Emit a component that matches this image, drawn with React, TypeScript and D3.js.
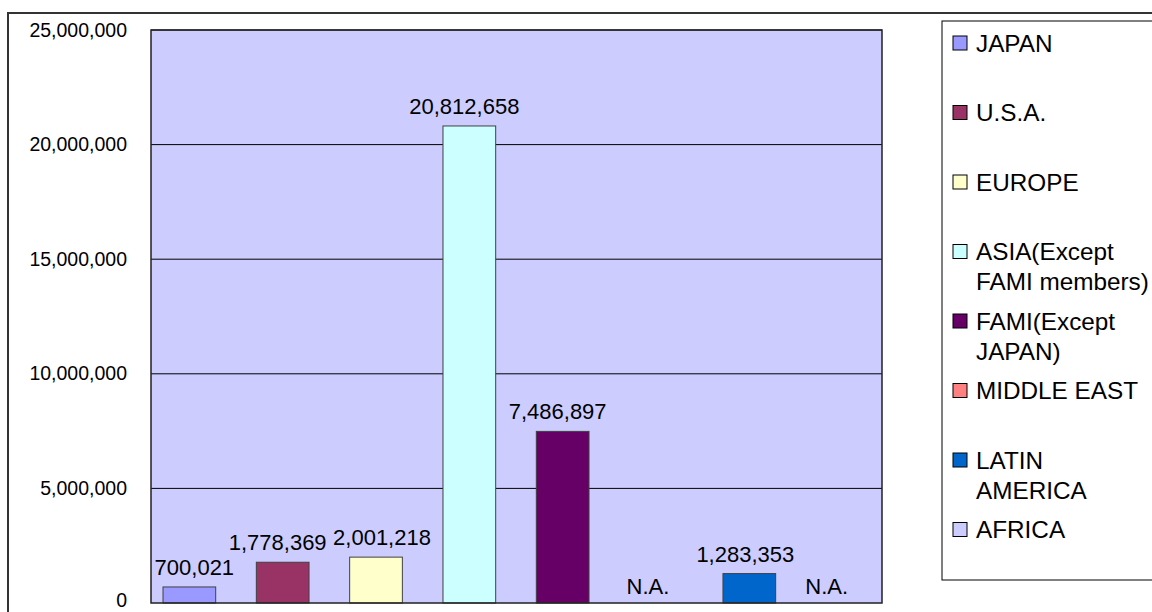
import React from "react";
import * as d3 from "d3";

const categories = ["JAPAN", "U.S.A.", "EUROPE", "ASIA(Except FAMI members)", "FAMI(Except JAPAN)", "MIDDLE EAST", "LATIN AMERICA", "AFRICA"];
const values: (number | null)[] = [700021, 1778369, 2001218, 20812658, 7486897, null, 1283353, null];
const colors = ["#9999FF", "#993366", "#FFFFCC", "#CCFFFF", "#660066", "#FF8080", "#0066CC", "#CCCCFF"];
const legendLines = [["JAPAN"], ["U.S.A."], ["EUROPE"], ["ASIA(Except", "FAMI members)"], ["FAMI(Except", "JAPAN)"], ["MIDDLE EAST"], ["LATIN", "AMERICA"], ["AFRICA"]];
const yTicks = [0, 5000000, 10000000, 15000000, 20000000, 25000000];

const W = 1152, H = 612;
const plot = { left: 151, top: 30, right: 882, bottom: 603 };
const FONT = "Liberation Sans, Arial, sans-serif";
// label nudges (styling, as in the original rendering)
const LABEL_DX = [5, -5, 6, -5, -5, -8, -4, -16];

export default function App() {
  const y = d3.scaleLinear().domain([0, 25000000]).range([plot.bottom, plot.top]);
  const x = d3.scaleBand<string>().domain(categories).range([163, 869]).paddingInner(0.4353).paddingOuter(0).align(0);
  const fmt = d3.format(",");
  const bw = x.bandwidth();

  return (
    <svg width={W} height={H} style={{ position: "absolute", left: 0, top: 0, background: "#fff" }} fontFamily={FONT}>
      <rect x={8} y={13} width={W + 20} height={H + 20} fill="#fff" stroke="#333" strokeWidth={2} />
      <rect x={plot.left} y={plot.top} width={plot.right - plot.left} height={plot.bottom - plot.top} fill="#CCCCFF" />
      {yTicks.filter((t) => t > 0).map((t) => (
        <line key={t} x1={plot.left} x2={plot.right} y1={y(t)} y2={y(t)} stroke="#000" strokeWidth={1} />
      ))}
      {yTicks.map((t) => (
        <text key={"l" + t} x={127} y={t === 0 ? y(t) - 1 : y(t) + 1.5} textAnchor="end" dominantBaseline="middle" fontSize={19.5} fill="#000">
          {fmt(t)}
        </text>
      ))}
      {categories.map((c, i) => {
        const v = values[i];
        const x0 = x(c)!;
        const cx = x0 + bw / 2 + LABEL_DX[i];
        if (v == null) {
          return (
            <text key={c} x={cx} y={plot.bottom - 9} textAnchor="middle" fontSize={22} fill="#000">
              N.A.
            </text>
          );
        }
        return (
          <g key={c}>
            <rect x={x0} y={y(v)} width={bw} height={plot.bottom - y(v)} fill={colors[i]} stroke="#404040" strokeWidth={1} />
            <text x={cx} y={y(v) - 12} textAnchor="middle" fontSize={22} fill="#000">
              {fmt(v)}
            </text>
          </g>
        );
      })}
      <rect x={plot.left} y={plot.top} width={plot.right - plot.left} height={plot.bottom - plot.top} fill="none" stroke="#222" strokeWidth={1.5} />
      <rect x={942} y={21} width={W} height={559} fill="#fff" stroke="#000" strokeWidth={1} />
      {categories.map((c, i) => {
        const cy = 43 + i * 69.5;
        return (
          <g key={"lg" + c}>
            <rect x={953} y={cy - 7} width={14} height={14} fill={colors[i]} stroke="#000" strokeWidth={1} />
            {legendLines[i].map((ln, j) => (
              <text key={j} x={976} y={cy + 8.5 + j * 30} fontSize={24.3} fill="#000">
                {ln}
              </text>
            ))}
          </g>
        );
      })}
    </svg>
  );
}
